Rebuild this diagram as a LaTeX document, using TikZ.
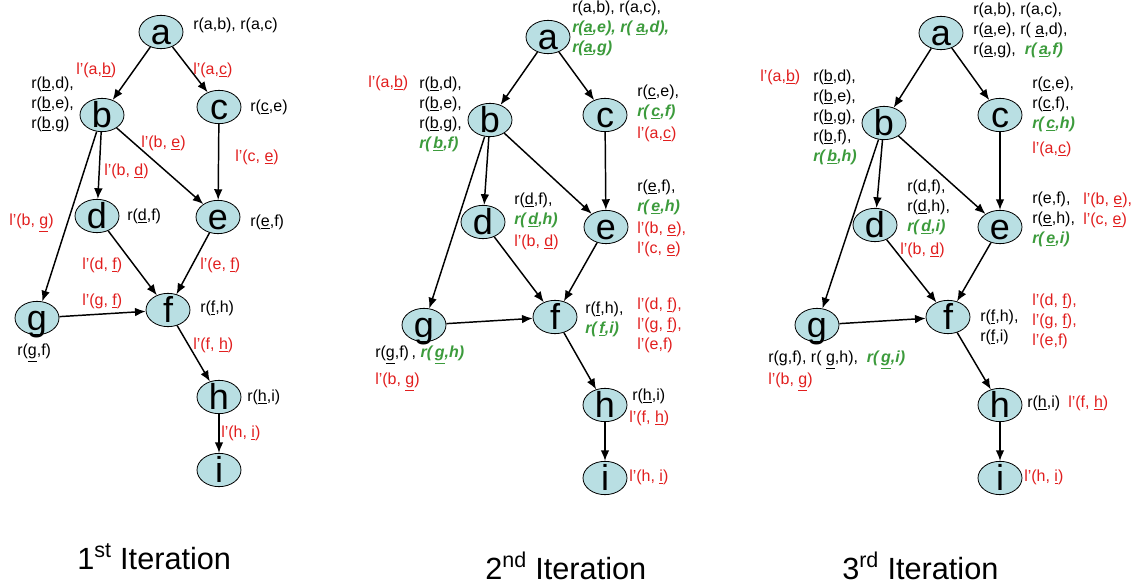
\documentclass[tikz,border=0pt]{standalone}
\usepackage{fontspec}
\setmainfont{Liberation Sans}
\usetikzlibrary{shapes.geometric, arrows.meta}
\definecolor{nodefill}{RGB}{185,223,227}
\definecolor{lred}{RGB}{225,30,30}
\definecolor{newgreen}{RGB}{60,155,60}
\newcommand{\added}[1]{\textcolor{newgreen}{\bfseries\itshape #1}}

\begin{document}
\begin{tikzpicture}
    [
        x=0.75pt, y=-0.75pt,
        vertex/.style={ellipse, draw, line width=0.6pt, fill=nodefill, minimum width=33pt, minimum height=25pt, inner xsep=0pt, inner ysep=-3pt, text height=19pt, text depth=0pt, font=\fontsize{27}{27}\selectfont},
        lbl/.style={anchor=west, align=left, inner sep=0pt, font=\fontsize{12}{15}\selectfont},
        cost/.style={lbl, text=lred},
        title/.style={anchor=west, inner sep=0pt, font=\fontsize{23}{23}\selectfont}
    ]
    \tikzstyle{line} = [draw, -{Latex[length=8pt,width=6.5pt]}, line width=1.1pt]

    \useasboundingbox (0,0) rectangle (1133,585);

    % 1st iteration
    \begin{scope}[shift={(161,32)}]
        \node[vertex] (a) at (0,0) {a};
        \node[vertex] (b) at (-59,83) {b};
        \node[vertex] (c) at (58,75) {c};
        \node[vertex] (d) at (-64,184) {d};
        \node[vertex] (e) at (57,185) {e};
        \node[vertex] (g) at (-124,286) {g};
        \node[vertex] (f) at (7,278) {f};
        \node[vertex] (h) at (58,365) {h};
        \node[vertex] (i) at (58,438) {i};

        \path[line] (a) -- (b);
        \path[line] (a) -- (c);
        \path[line] (b) -- (d);
        \path[line] (b) -- (e);
        \path[line] (b) -- (g);
        \path[line] (c) -- (e);
        \path[line] (d) -- (f);
        \path[line] (e) -- (f);
        \path[line] (g) -- (f);
        \path[line] (f) -- (h);
        \path[line] (h) -- (i);

        \node[lbl] (ra) at (32,-7) {r(a,b), r(a,c)};
        \node[cost] (lab) at (-85,38) {l’(a,\underline{b})};
        \node[cost] (lac) at (32,38) {l’(a,\underline{c})};
        \node[lbl] (rb) at (-130,72) {r(\underline{b},d),\\r(\underline{b},e),\\r(\underline{b},g)};
        \node[lbl] (rc) at (89,75) {r(\underline{c},e)};
        \node[cost] (lbe) at (-20,111) {l’(b, \underline{e})};
        \node[cost] (lce) at (74,125) {l’(c, \underline{e})};
        \node[cost] (lbd) at (-57,139) {l’(b, \underline{d})};
        \node[lbl] (rd) at (-34,184) {r(\underline{d},f)};
        \node[lbl] (re) at (89,190) {r(\underline{e},f)};
        \node[cost] (lbg) at (-152,191) {l’(b, \underline{g})};
        \node[cost] (ldf) at (-79,233) {l’(d, \underline{f})};
        \node[cost] (lef) at (39,233) {l’(e, \underline{f})};
        \node[cost] (lgf) at (-79,269) {l’(g, \underline{f})};
        \node[lbl] (rf) at (39,276) {r(\underline{f},h)};
        \node[lbl] (rg) at (-144,321) {r(\underline{g},f)};
        \node[cost] (lfh) at (32,313) {l’(f, \underline{h})};
        \node[lbl] (rh) at (86,365) {r(\underline{h},i)};
        \node[cost] (lhi) at (60,401) {l’(h, \underline{i})};

        \node[title] (title) at (-84,525) {1\textsuperscript{st} Iteration};
    \end{scope}

    % 2nd iteration
    \begin{scope}[shift={(548,37)}]
        \node[vertex] (a) at (0,0) {a};
        \node[vertex] (b) at (-58,83) {b};
        \node[vertex] (c) at (57,78) {c};
        \node[vertex] (d) at (-65,185) {d};
        \node[vertex] (e) at (58,190) {e};
        \node[vertex] (g) at (-124,288) {g};
        \node[vertex] (f) at (7,280) {f};
        \node[vertex] (h) at (57,368) {h};
        \node[vertex] (i) at (57,441) {i};

        \path[line] (a) -- (b);
        \path[line] (a) -- (c);
        \path[line] (b) -- (d);
        \path[line] (b) -- (e);
        \path[line] (b) -- (g);
        \path[line] (c) -- (e);
        \path[line] (d) -- (f);
        \path[line] (e) -- (f);
        \path[line] (g) -- (f);
        \path[line] (f) -- (h);
        \path[line] (h) -- (i);

        \node[lbl] (ra) at (24,-9) {r(a,b), r(a,c),\\\added{r(\underline{a},e), r(\ \underline{a},d),}\\\added{r(\underline{a},g)}};
        \node[cost] (lab) at (-180,46) {l’(a,\underline{b})};
        \node[lbl] (rb) at (-129,77.5) {r(\underline{b},d),\\r(\underline{b},e),\\r(\underline{b},g),\\\added{r(\,\underline{b},f)}};
        \node[lbl] (rc) at (89,65.5) {r(\underline{c},e),\\\added{r(\,\underline{c},f)}};
        \node[cost] (lac) at (89,97) {l’(a,\underline{c})};
        \node[lbl] (rd) at (-34,173) {r(\underline{d},f),\\\added{r(\,\underline{d},h)}};
        \node[cost] (lbd) at (-34,205) {l’(b, \underline{d})};
        \node[lbl] (re) at (89,160.5) {r(\underline{e},f),\\\added{r(\,\underline{e},h)}};
        \node[cost] (lbe) at (89,202) {l’(b, \underline{e}),\\l’(c, \underline{e})};
        \node[lbl] (rf) at (37,282.5) {r(\underline{f},h),\\\added{r(\,\underline{f},i)}};
        \node[cost] (lf) at (89,288) {l’(d, \underline{f}),\\l’(g, \underline{f}),\\l’(e,f)};
        \node[lbl] (rg) at (-173,318) {r(\underline{g},f)\,, \added{r(\,\underline{g},h)}};
        \node[cost] (lbg) at (-173,345) {l’(b, \underline{g})};
        \node[lbl] (rh) at (84,359) {r(\underline{h},i)};
        \node[cost] (lfh) at (81,381) {l’(f, \underline{h})};
        \node[cost] (lhi) at (81,440) {l’(h, \underline{i})};

        \node[title] (title) at (-63,529) {2\textsuperscript{nd} Iteration};
    \end{scope}

    % 3rd iteration
    \begin{scope}[shift={(941,33)}]
        \node[vertex] (a) at (0,0) {a};
        \node[vertex] (b) at (-57,90) {b};
        \node[vertex] (c) at (59,82) {c};
        \node[vertex] (d) at (-66,192) {d};
        \node[vertex] (e) at (59,194) {e};
        \node[vertex] (g) at (-124,292) {g};
        \node[vertex] (f) at (7,284) {f};
        \node[vertex] (h) at (59,372) {h};
        \node[vertex] (i) at (59,445) {i};

        \path[line] (a) -- (b);
        \path[line] (a) -- (c);
        \path[line] (b) -- (d);
        \path[line] (b) -- (e);
        \path[line] (b) -- (g);
        \path[line] (c) -- (e);
        \path[line] (d) -- (f);
        \path[line] (e) -- (f);
        \path[line] (g) -- (f);
        \path[line] (f) -- (h);
        \path[line] (h) -- (i);

        \node[lbl] (ra) at (32,-2.5) {r(a,b), r(a,c),\\r(\underline{a},e), r(\ \underline{a},d),\\r(\underline{a},g),\ \ \added{r(\,\underline{a},f)}};
        \node[cost] (lab) at (-181,44) {l’(a,\underline{b})};
        \node[lbl] (rb) at (-128,84.5) {r(\underline{b},d),\\r(\underline{b},e),\\r(\underline{b},g),\\r(\underline{b},f),\\\added{r(\,\underline{b},h)}};
        \node[lbl] (rc) at (91,71) {r(\underline{c},e),\\r(\underline{c},f),\\\added{r(\,\underline{c},h)}};
        \node[cost] (lac) at (91,116) {l’(a,\underline{c})};
        \node[lbl] (rd) at (-34,174) {r(d,f),\\r(\underline{d},h),\\\added{r(\,\underline{d},i)}};
        \node[cost] (lbd) at (-41,217) {l’(b, \underline{d})};
        \node[lbl] (re) at (91,186) {r(e,f),\\r(\underline{e},h),\\\added{r(\,\underline{e},i)}};
        \node[cost] (lbe) at (142,177) {l’(b, \underline{e}),\\l’(c, \underline{e})};
        \node[lbl] (rf) at (39,294) {r(\underline{f},h),\\r(\underline{f},i)};
        \node[cost] (lf) at (91,288.5) {l’(d, \underline{f}),\\l’(g, \underline{f}),\\l’(e,f)};
        \node[lbl] (rg) at (-173,327) {r(g,f), r(\ \underline{g},h),\ \ \added{r(\,\underline{g},i)}};
        \node[cost] (lbg) at (-173,349) {l’(b, \underline{g})};
        \node[lbl] (rh) at (86,370) {r(\underline{h},i)};
        \node[cost] (lfh) at (127,370) {l’(f, \underline{h})};
        \node[cost] (lhi) at (83,444) {l’(h, \underline{i})};

        \node[title] (title) at (-99,533) {3\textsuperscript{rd} Iteration};
    \end{scope}

\end{tikzpicture}
\end{document}
